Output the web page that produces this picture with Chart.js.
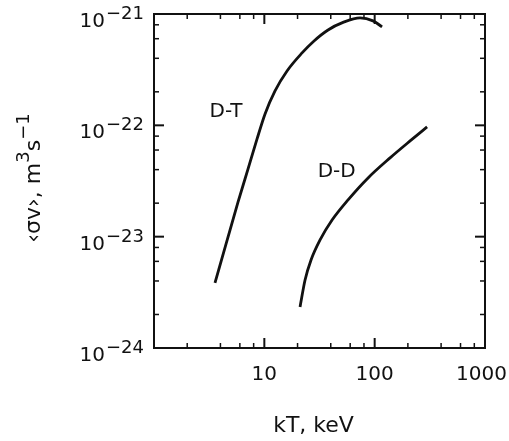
<!DOCTYPE html>
<html>
<head>
<meta charset="utf-8">
<script src="https://cdn.jsdelivr.net/npm/chart.js@4"></script>
<style>
  html, body { margin: 0; padding: 0; background: #fff; }
  canvas { display: block; }
</style>
</head>
<body>
<canvas id="c" width="509" height="441"></canvas>
<script>
// Thermal reactivity <σv> (m^3/s) versus plasma temperature kT (keV)
const dtEnergy = [3.57, 4.50, 5.78, 7.12, 8.59, 10.15, 12.5, 16.06, 21.97, 28.2, 37.8, 51.7, 73.7, 96.7, 116.7];
const dtRate   = [3.84e-24, 8.6e-24, 2.05e-23, 4.06e-23, 7.55e-23, 1.266e-22, 2.04e-22, 3.08e-22,
                  4.47e-22, 5.73e-22, 7.19e-22, 8.4e-22, 9.23e-22, 8.67e-22, 7.66e-22];

const ddEnergy = [21.07, 23.39, 26.5, 31.99, 41.1, 57.4, 87.1, 137.9, 209.4, 298.6];
const ddRate   = [2.34e-24, 4.08e-24, 6.17e-24, 9.34e-24, 1.41e-23, 2.14e-23, 3.37e-23, 5.1e-23, 7.24e-23, 9.67e-23];

// curve captions, anchored in data coordinates
const curveNames = ['D-T', 'D-D'];
const curveLabelAt = [[4.5, 1.36e-22], [45.3, 3.94e-23]];

// axes
const xTickValues = [10, 100, 1000];
const xTickLabels = ['10', '100', '1000'];
const yTickExponents = [-24, -23, -22, -21];
const minorMultipliers = [2, 4, 6, 8];
const xTitle = 'kT, keV';

const FONT = '"DejaVu Sans", sans-serif';
const INK = '#111';

function toPoints(xs, ys) { return xs.map((x, i) => ({ x: x, y: ys[i] })); }

const framePlugin = {
  id: 'frame',
  afterDraw(chart) {
    const ctx = chart.ctx;
    const a = chart.chartArea;
    const xs = chart.scales.x, ys = chart.scales.y;
    ctx.save();
    ctx.strokeStyle = INK;
    ctx.fillStyle = INK;

    // box
    ctx.lineWidth = 2;
    ctx.strokeRect(a.left, a.top, a.right - a.left, a.bottom - a.top);

    // inward ticks on all four sides
    const tick = (x1, y1, x2, y2, w) => {
      ctx.lineWidth = w;
      ctx.beginPath(); ctx.moveTo(x1, y1); ctx.lineTo(x2, y2); ctx.stroke();
    };
    for (let d = 1; d <= 1000; d *= 10) {
      [1].concat(minorMultipliers).forEach(m => {
        const v = d * m;
        if (v < xs.min || v > xs.max) return;
        const px = xs.getPixelForValue(v);
        const len = m === 1 ? 10 : 5;
        const w = m === 1 ? 2 : 1.5;
        tick(px, a.bottom, px, a.bottom - len, w);
        tick(px, a.top, px, a.top + len, w);
      });
    }
    for (let e = -24; e <= -21; e++) {
      [1].concat(minorMultipliers).forEach(m => {
        const v = m * Math.pow(10, e);
        if (v < ys.min * 0.999 || v > ys.max * 1.001) return;
        const py = ys.getPixelForValue(v);
        const len = m === 1 ? 10 : 5;
        const w = m === 1 ? 2 : 1.5;
        tick(a.left, py, a.left + len, py, w);
        tick(a.right, py, a.right - len, py, w);
      });
    }

    // x tick labels
    ctx.font = '20px ' + FONT;
    ctx.textBaseline = 'alphabetic';
    xTickValues.forEach((v, i) => {
      const px = xs.getPixelForValue(v);
      const w = ctx.measureText(xTickLabels[i]).width;
      let left = px - w / 2;
      if (left + w > chart.width - 2) left = chart.width - 2 - w;
      ctx.textAlign = 'left';
      ctx.fillText(xTickLabels[i], left, a.bottom + 32);
    });

    // y tick labels: 10 with a raised exponent
    yTickExponents.forEach(e => {
      const py = ys.getPixelForValue(Math.pow(10, e));
      const sup = '\u2212' + String(-e);
      const right = a.left - 10;
      ctx.font = '18px ' + FONT;
      ctx.textAlign = 'right';
      const sw = ctx.measureText(sup).width;
      ctx.fillText(sup, right, py + 5);
      ctx.font = '20px ' + FONT;
      ctx.fillText('10', right - sw - 1, py + 13);
    });

    // x title
    ctx.font = '22px ' + FONT;
    ctx.textAlign = 'center';
    ctx.fillText(xTitle, (a.left + a.right) / 2 - 6, a.bottom + 84);

    // y title, rotated, with superscripts
    const parts = [
      { t: '\u2039\u03c3v\u203a, m', sup: false },
      { t: '3', sup: true },
      { t: 's', sup: false },
      { t: '\u22121', sup: true }
    ];
    const fontFor = p => (p.sup ? '18px ' : '22px ') + FONT;
    let total = 0;
    parts.forEach(p => { ctx.font = fontFor(p); p.w = ctx.measureText(p.t).width; total += p.w; });
    ctx.translate(40, (a.top + a.bottom) / 2 - 3);
    ctx.rotate(-Math.PI / 2);
    ctx.textAlign = 'left';
    let cx = -total / 2;
    parts.forEach(p => {
      ctx.font = fontFor(p);
      ctx.fillText(p.t, cx, p.sup ? -11 : 0);
      cx += p.w;
    });
    ctx.setTransform(1, 0, 0, 1, 0, 0);

    // curve captions
    ctx.font = '20px ' + FONT;
    ctx.textAlign = 'center';
    ctx.textBaseline = 'middle';
    curveNames.forEach((name, i) => {
      const [vx, vy] = curveLabelAt[i];
      ctx.fillText(name, xs.getPixelForValue(vx), ys.getPixelForValue(vy) + 1);
    });
    ctx.restore();
  }
};

new Chart(document.getElementById('c'), {
  type: 'scatter',
  data: {
    datasets: [
      { label: curveNames[0], data: toPoints(dtEnergy, dtRate) },
      { label: curveNames[1], data: toPoints(ddEnergy, ddRate) }
    ]
  },
  options: {
    responsive: false,
    animation: false,
    devicePixelRatio: 1,
    layout: { padding: { left: 154, right: 24, top: 14, bottom: 93 } },
    showLine: true,
    elements: {
      point: { radius: 0 },
      line: { borderColor: INK, borderWidth: 2.8, cubicInterpolationMode: 'monotone', fill: false }
    },
    plugins: { legend: { display: false }, tooltip: { enabled: false } },
    scales: {
      x: { type: 'logarithmic', min: 1, max: 1000, display: false },
      y: { type: 'logarithmic', min: 1e-24, max: 1e-21, display: false }
    }
  },
  plugins: [framePlugin]
});
</script>
</body>
</html>
